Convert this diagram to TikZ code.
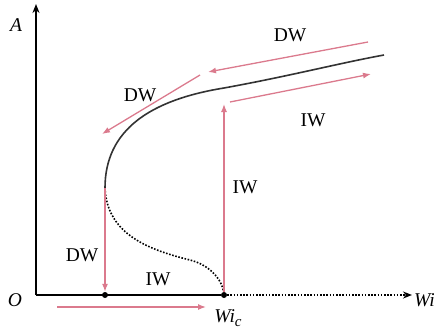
\documentclass[tikz,border=0pt]{standalone}
\usepackage{fontspec}
\setmainfont{Liberation Serif}
\usetikzlibrary{arrows.meta}
\definecolor{custompink}{HTML}{DB7A8D}
\definecolor{curvegray}{HTML}{333333}

\begin{document}
\begin{tikzpicture}[x=1pt,y=-1pt]
  % Estilos de ejes, ramas y flechas
  \tikzset{
    axis_line/.style={black,line width=1.6pt},
    axis_tip/.style={-{Stealth[length=9pt,width=7pt]}},
    pink_arrow/.style={custompink,line width=1.3pt,-{Latex[length=8pt,width=6pt]}},
    branch_line/.style={curvegray,line width=1.6pt},
    dot_line/.style={black,line width=1.6pt,dash pattern=on 1.6pt off 1.6pt},
    label_text/.style={font=\fontsize{19.5}{19.5}\selectfont,inner sep=0pt},
    ital_text/.style={font=\itshape\fontsize{19.5}{19.5}\selectfont,inner sep=0pt},
    dot_node/.style={circle,fill=black,inner sep=0pt,minimum size=6pt}
  }
  \useasboundingbox (0,0) rectangle (434,335);

  % Ejes y puntos sobre el eje
  \coordinate (o) at (36,295);
  \coordinate (ytip) at (36,4);
  \coordinate (xtip) at (412,295);
  \node[dot_node] (s) at (105,295) {};
  \node[dot_node] (c) at (224,295) {};
  \draw[axis_line,axis_tip] (o) -- (ytip);
  \draw[axis_line] (o) -- (c);
  \draw[dot_line,axis_tip] (c) -- (xtip);

  % Rama superior (continua) y rama inferior (punteada)
  \coordinate (t) at (105,188);
  \coordinate (m) at (224,88);
  \coordinate (e) at (384,55);
  \coordinate (k) at (190,260);
  \draw[branch_line] (t) .. controls (105,130) and (150,100) .. (m)
    .. controls (290,76) and (340,63) .. (e);
  \draw[dot_line] (t) .. controls (107,235) and (150,250) .. (k)
    .. controls (210,265) and (222,280) .. (c);

  % Flechas DW / IW
  \coordinate (iw1) at (224,104);
  \coordinate (iw2a) at (230,102);
  \coordinate (iw2b) at (371,74);
  \coordinate (dw1a) at (368,42);
  \coordinate (dw1b) at (208,72);
  \coordinate (dw2a) at (200,75);
  \coordinate (dw2b) at (102,134);
  \coordinate (iw3a) at (57,307);
  \coordinate (iw3b) at (206,307);
  \draw[pink_arrow] (t) -- (s.north);
  \draw[pink_arrow] (c.north) -- (iw1);
  \draw[pink_arrow] (iw2a) -- (iw2b);
  \draw[pink_arrow] (dw1a) -- (dw1b);
  \draw[pink_arrow] (dw2a) -- (dw2b);
  \draw[pink_arrow] (iw3a) -- (iw3b);

  % Etiquetas
  \node[label_text] (l_dw1) at (290,35) {DW};
  \node[label_text] (l_iw1) at (313,120) {IW};
  \node[label_text] (l_dw2) at (140,95) {DW};
  \node[label_text] (l_iw2) at (245,187) {IW};
  \node[label_text] (l_dw3) at (82,255) {DW};
  \node[label_text] (l_iw3) at (158,279) {IW};
  \node[ital_text] (l_a) at (16,25) {A};
  \node[ital_text] (l_o) at (15,300) {O};
  \node[ital_text,anchor=west] (l_wi) at (414,300) {Wi};
  \node[ital_text] (l_wic) at (228,318) {Wi\raisebox{-0.45ex}{\fontsize{15}{15}\selectfont c}};
\end{tikzpicture}
\end{document}
